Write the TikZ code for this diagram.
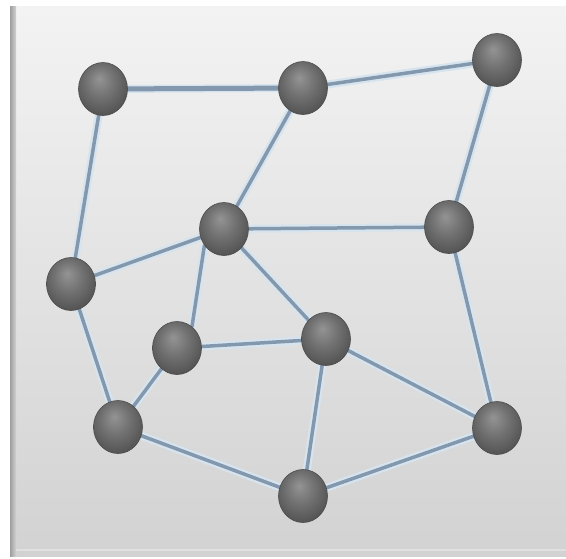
\documentclass[tikz,border=0pt]{standalone}
\usetikzlibrary{shapes.geometric}
\definecolor{edgecore}{HTML}{8498AD}
\definecolor{edgehalo}{HTML}{D6E4EF}
\definecolor{paneltop}{HTML}{F3F3F3}
\definecolor{panelbot}{HTML}{D2D2D2}
\pgfdeclarelayer{bg}
\pgfdeclarelayer{edges}
\pgfsetlayers{bg,edges,main}
\pgfdeclareradialshading{gball}{\pgfpoint{-4bp}{10bp}}{%
  color(0bp)=(black!42);
  color(14bp)=(black!55);
  color(30bp)=(black!68);
  color(42bp)=(black!78);
  color(50bp)=(black!85)}
\tikzset{
  vert/.style={ellipse, minimum width=49pt, minimum height=53pt, inner sep=0pt,
    shading=gball, draw=black!70, line width=0.6pt},
  link/.style={edgecore, line width=3.5pt, line cap=round,
    preaction={draw=edgehalo, line width=8pt}},
  thick link/.style={link, line width=5pt}
}
\begin{document}
\begin{tikzpicture}[x=1pt,y=-1pt]
\useasboundingbox (0,0) rectangle (566,558);
\begin{pgfonlayer}{bg}
\fill[white] (0,0) rectangle (566,558);
\shade[top color=paneltop, bottom color=panelbot] (10,6) rectangle (566,556);
\shade[left color=black!38, right color=black!18] (10,6) rectangle (16,556);
\fill[black!12] (16,549) rectangle (566,551);
\end{pgfonlayer}
% nodes
\node[vert] (A) at (103,89) {};
\node[vert] (B) at (303,88) {};
\node[vert] (C) at (497,60) {};
\node[vert] (D) at (224,229) {};
\node[vert] (E) at (449,227) {};
\node[vert] (F) at (71,284) {};
\node[vert] (G) at (177,348) {};
\node[vert] (H) at (326,339) {};
\node[vert] (I) at (118,427) {};
\node[vert] (J) at (497,428) {};
\node[vert] (K) at (303,496) {};
% edges (behind nodes)
\begin{pgfonlayer}{edges}
\draw[thick link] (A.center) -- (B.center);
\draw[link] (B.center) -- (C.center);
\draw[link] (A.center) -- (F.center);
\draw[link] (B.center) -- (D.center);
\draw[link] (C.center) -- (E.center);
\draw[link] (D.center) -- (E.center);
\draw[link] (D.center) -- (F.center);
\draw[link] (D.220) -- (G.55);
\draw[link] (D.center) -- (H.center);
\draw[link] (F.center) -- (I.center);
\draw[link] (G.center) -- (H.center);
\draw[link] (G.center) -- (I.center);
\draw[link] (H.center) -- (J.center);
\draw[link] (H.center) -- (K.center);
\draw[link] (E.center) -- (J.center);
\draw[link] (I.center) -- (K.center);
\draw[link] (K.center) -- (J.center);
\end{pgfonlayer}
\end{tikzpicture}
\end{document}
